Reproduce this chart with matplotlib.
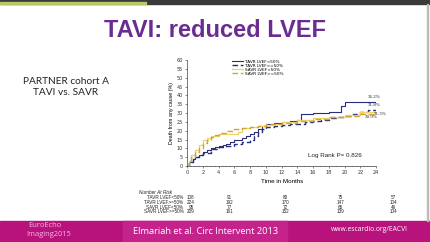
import matplotlib
matplotlib.use("Agg")
import matplotlib.pyplot as plt
from matplotlib.patches import Rectangle

# Kaplan-Meier curves (months, % dead)
tavr_lo_t = [0, 0.3, 0.7, 1, 1.5, 2, 2.5, 3, 3.5, 4, 4.5, 5, 5.5, 6, 6.5, 7, 7.5, 8, 8.5, 9, 9.5, 10, 11, 12, 13, 14, 14.5, 16, 18, 19.5, 20, 24]
tavr_lo_v = [0, 2, 4, 5, 6.5, 8, 9, 10, 11, 11.5, 12, 12.5, 13.5, 14.5, 15, 16, 17, 18, 19, 21, 22.5, 23.5, 24.5, 25, 25.5, 26, 29.5, 30, 30.5, 34, 36.2, 36.2]

tavr_hi_t = [0, 0.3, 0.7, 1, 1.5, 2, 3, 4, 5, 6, 7, 8, 8.5, 9, 9.5, 10, 11, 12, 13, 14, 15, 16, 17, 18, 19, 20, 21, 22, 23, 24]
tavr_hi_v = [0, 2, 4, 5, 6.5, 7.5, 9.5, 11, 11.5, 12.5, 13.5, 15, 17, 19.5, 21, 22, 22.5, 23, 23.5, 24, 25, 25.5, 26, 27, 27.5, 28.5, 29.5, 30.5, 31.5, 31.8]

savr_lo_t = [0, 0.2, 0.5, 1, 1.5, 2, 2.5, 3, 4, 5, 6, 6.5, 7, 8, 9, 10, 11, 12, 14, 16, 18, 20, 22, 24]
savr_lo_v = [0, 3, 6, 9, 12, 15, 16, 17, 18, 18, 18, 19, 21.5, 22, 22.5, 23, 24, 25, 26, 27, 28, 29, 30.5, 31.3]

savr_hi_t = [0, 0.2, 0.5, 1, 1.5, 2, 2.5, 3, 3.5, 4, 5, 6, 7, 8, 9, 10, 12, 14, 16, 18, 20, 22, 24]
savr_hi_v = [0, 3, 5, 8, 10, 13, 15, 16.5, 17.5, 18.5, 20, 21, 21.5, 22, 22.5, 23.5, 24.5, 25.5, 26.5, 27.5, 28.5, 29.5, 30.9]

labels = ["TAVR LVEF<50%", "TAVR LVEF>=50%", "SAVR LVEF<50%", "SAVR LVEF>=50%"]
end_labels = ["36.2%", "31.8%", "31.3%", "30.9%"]

risk_rows = ["TAVR LVEF<50%", "TAVR LVEF>=50%", "SAVR LVEF<50%", "SAVR LVEF>=50%"]
risk_counts = [
    [108, 91, 80, 75, 57],
    [224, 192, 170, 147, 104],
    [95, 77, 72, 65, 46],
    [209, 161, 152, 139, 104],
]

NAVY = "#2a2e78"
GOLD_L = "#ecd270"
GOLD_D = "#d6a42a"
PURPLE = "#6b2c91"
MAGENTA = "#b8137d"

fig = plt.figure(figsize=(4.3, 2.42), dpi=100)
fig.patch.set_facecolor("white")

# top video bar
fig.add_artist(Rectangle((0, 0.983), 1, 0.017, transform=fig.transFigure, color="#3a3a3a", zorder=0))
fig.add_artist(Rectangle((0, 0.985), 0.34, 0.006, transform=fig.transFigure, color="#b9c76a", zorder=1))

fig.text(0.5, 0.873, "TAVI: reduced LVEF", ha="center", va="center", fontsize=17,
         fontweight="bold", color=PURPLE, family="Liberation Sans")

fig.text(0.153, 0.64, "PARTNER cohort A\nTAVI vs. SAVR", ha="center", va="center",
         fontsize=7.3, color="#222222", family="Lato", linespacing=1.35)

ax = fig.add_axes([0.435, 0.314, 0.44, 0.438])
ax.step(tavr_lo_t, tavr_lo_v, where="post", color=NAVY, lw=0.8, label=labels[0])
ax.step(tavr_hi_t, tavr_hi_v, where="post", color=NAVY, lw=1.0, ls=(0, (4, 2)), label=labels[1])
ax.step(savr_lo_t, savr_lo_v, where="post", color=GOLD_L, lw=0.9, label=labels[2])
ax.step(savr_hi_t, savr_hi_v, where="post", color=GOLD_D, lw=1.0, ls=(0, (4, 2)), label=labels[3])

ax.set_xlim(0, 24)
ax.set_ylim(0, 60)
ax.set_xticks(range(0, 25, 2))
ax.set_xticks([x * 0.5 for x in range(49)], minor=True)
ax.set_yticks(range(0, 61, 5))
ax.tick_params(labelsize=3.6, length=1.5, width=0.4, pad=1.5, colors="#333333")
ax.tick_params(which="minor", length=0.8, width=0.3)
for s in ["top", "right"]:
    ax.spines[s].set_visible(False)
for s in ["left", "bottom"]:
    ax.spines[s].set_linewidth(0.5)
    ax.spines[s].set_color("#444444")
ax.set_xlabel("Time in Months", fontsize=4.5, labelpad=2.5, family="Liberation Sans")
ax.set_ylabel("Death from any cause (%)", fontsize=3.8, labelpad=1.5, family="Liberation Sans")

ax.legend(loc="upper left", bbox_to_anchor=(0.22, 1.03), fontsize=3.1, frameon=False,
          handlelength=2.6, labelspacing=0.0, borderpad=0.2, handletextpad=0.5)

end_y = [39.0, 34.5, 29.4, 27.7]
end_x = [22.9, 22.9, 23.75, 22.6]
for x, y, s in zip(end_x, end_y, end_labels):
    ax.text(x, y, s, fontsize=3.6, color="#222222", va="center", family="Liberation Serif")

ax.text(15.3, 6.2, "Log Rank P= 0.826", fontsize=4.5, color="#222222", va="center",
        family="Liberation Sans")

# number at risk table (0, 6, 12, 18, 24 months)
col_x = [0.444, 0.533, 0.663, 0.791, 0.914]
row_y = [0.182, 0.162, 0.143, 0.124]
fig.text(0.40, 0.206, "Number At Risk", fontsize=3.4, style="italic", ha="right", va="center",
         family="Liberation Sans", color="#222222")
for y, name, counts in zip(row_y, risk_rows, risk_counts):
    fig.text(0.426, y, name, fontsize=3.3, ha="right", va="center", family="Liberation Sans", color="#222222")
    for x, c in zip(col_x, counts):
        fig.text(x, y, str(c), fontsize=3.3, ha="center", va="center", family="Liberation Sans", color="#222222")

# footer band
fig.add_artist(Rectangle((0, 0), 1, 0.088, transform=fig.transFigure, color=MAGENTA, zorder=0))
fig.add_artist(Rectangle((0.287, 0.0), 0.38, 0.088, transform=fig.transFigure, color="#c4238b", zorder=0))
fig.text(0.477, 0.044, "Elmariah et al. Circ Intervent 2013", ha="center", va="center",
         fontsize=6.7, color="white", family="Open Sans")
fig.text(0.858, 0.05, "www.escardio.org/EACVI", ha="center", va="center",
         fontsize=4.9, color="white", family="Open Sans")
fig.text(0.065, 0.068, "EuroEcho", ha="left", va="center", fontsize=5.4, color="#f2b8dc", family="Open Sans")
fig.text(0.06, 0.033, "Imaging2015", ha="left", va="center", fontsize=5.4, color="#f2b8dc", family="Open Sans")

# thin frame line at right edge
fig.add_artist(Rectangle((0.993, 0.088), 0.003, 0.895, transform=fig.transFigure, color="#bbbbbb", zorder=0))

fig.savefig("out.png", dpi=100)
